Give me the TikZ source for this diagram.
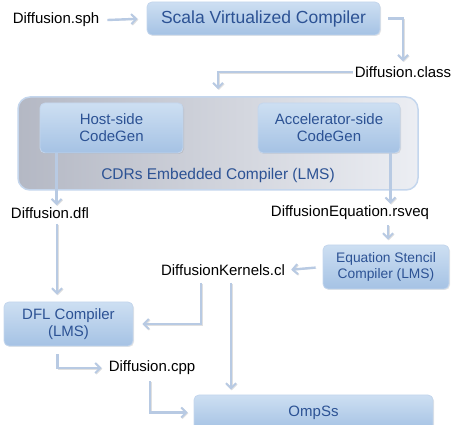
\documentclass[tikz,border=0pt]{standalone}
\usepackage{fontspec}
\setmainfont{Liberation Sans}
\usetikzlibrary{arrows.meta,shadows}
\definecolor{boxtop}{RGB}{205,223,242}
\definecolor{boxbot}{RGB}{165,194,228}
\definecolor{boxline}{RGB}{196,214,237}
\definecolor{boxtext}{RGB}{44,82,148}
\definecolor{flowc}{RGB}{184,202,227}
\definecolor{outerl}{RGB}{180,184,196}
\definecolor{outerr}{RGB}{236,238,243}
\tikzset{
  stage/.style={draw=boxline, line width=0.8pt, rounded corners=5pt,
    top color=boxtop, bottom color=boxbot, text=boxtext, align=center,
    drop shadow={opacity=0.2, shadow xshift=1pt, shadow yshift=-1pt},
    font=\fontsize{15}{17}\selectfont},
  file/.style={font=\fontsize{15}{17}\selectfont, inner sep=2pt},
  flow/.style={draw=flowc, line width=2.4pt, -{Straight Barb[length=5pt,width=10pt,line width=2pt]},
    preaction={draw=black!12, transform canvas={shift={(0.8pt,-0.8pt)}}}}
}
\begin{document}
\begin{tikzpicture}[x=1pt, y=-1pt]
\useasboundingbox (0,0) rectangle (456,425);
% outer compiler
\node (cdrs) [draw=boxline, line width=1.5pt, rounded corners=12pt, left color=outerl, right color=outerr,
  minimum width=400pt, minimum height=93pt] at (218,143.5) {};
\node (cdrstxt) [text=boxtext, font=\fontsize{15.5}{17}\selectfont] at (218,175) {CDRs Embedded Compiler (LMS)};
% stages
\node (scala) [stage, minimum width=233pt, minimum height=33pt, font=\fontsize{17.5}{19}\selectfont] at (263.5,18.5) {Scala Virtualized Compiler};
\node (host) [stage, minimum width=143pt, minimum height=50pt] at (111.5,128) {Host-side\\CodeGen};
\node (accel) [stage, minimum width=142pt, minimum height=50pt] at (329,128) {Accelerator-side\\CodeGen};
\node (eqs) [stage, minimum width=126pt, minimum height=44pt, font=\fontsize{13.8}{16}\selectfont] at (386,267) {Equation Stencil\\Compiler (LMS)};
\node (dflc) [stage, minimum width=129pt, minimum height=44pt] at (68.5,324) {DFL Compiler\\(LMS)};
\node (omp) [stage, minimum width=239pt, minimum height=35pt] at (313.5,412.5) {OmpSs};
% files
\node (sph) [file] at (56,20) {Diffusion.sph};
\node (class) [file] at (403,72) {Diffusion.class};
\node (dfl) [file] at (50,213) {Diffusion.dfl};
\node (rsveq) [file] at (350,213) {DiffusionEquation.rsveq};
\node (kern) [file] at (223,270) {DiffusionKernels.cl};
\node (cpp) [file] at (152,368) {Diffusion.cpp};
% connectors
\draw[flow, shorten >=9pt] ([xshift=6pt]sph.east) -- (scala.west);
\draw[flow] ([xshift=8pt]scala.east) -| ([yshift=3pt]class.north);
\draw[flow] (class.west) -| ([yshift=7pt]cdrs.north);
\draw[flow] ([xshift=17pt]host.south west) -- ([xshift=17pt]host.south west |- dfl.north);
\draw[flow] ([xshift=-10pt]accel.south east) -- ([xshift=-10pt]accel.south east |- rsveq.north);
\draw[flow] ([xshift=7pt,yshift=-3pt]dfl.south) -- ([xshift=7pt,yshift=7pt]dfl.south |- dflc.north);
\draw[flow] ([xshift=38pt,yshift=-3pt]rsveq.south) -- ([xshift=38pt,yshift=5pt]rsveq.south |- eqs.north);
\draw[flow, shorten <=7pt, shorten >=4pt] (eqs.west) -- (kern.east);
\draw[flow, shorten >=9pt] ([xshift=-22pt,yshift=-5pt]kern.south) |- (dflc.east);
\draw[flow] ([xshift=8pt,yshift=-5pt]kern.south) -- ([xshift=8pt,yshift=5pt]kern.south |- omp.north);
\draw[flow, shorten >=5pt] ([xshift=-11pt,yshift=-8pt]dflc.south) |- (cpp.west);
\draw[flow, shorten >=6pt] ([xshift=-2pt,yshift=-4pt]cpp.south) |- (omp.west);
\end{tikzpicture}
\end{document}
